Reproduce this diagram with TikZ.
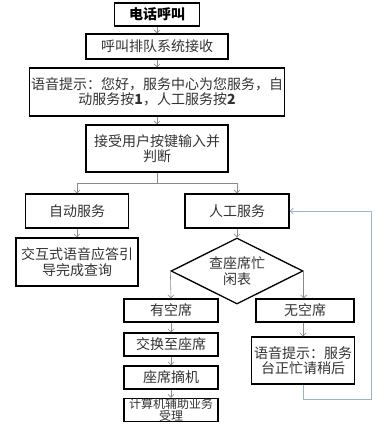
\documentclass[tikz,border=0pt]{standalone}
\usepackage{fontspec}
\setmainfont{Noto Sans CJK SC}
\usetikzlibrary{arrows.meta, shapes.geometric}
\definecolor{cLine}{HTML}{8A8A8A}
\definecolor{cBack}{HTML}{9DB3CF}
\definecolor{cTxt}{HTML}{333333}
\tikzset{
  box/.style={draw=black, line width=1.3pt, fill=white, text=cTxt, align=center,
    inner sep=0pt, font=\fontsize{14}{15.5}\selectfont},
  boxT/.style={box, line width=1.9pt, text=black, font=\fontsize{14}{15.5}\selectfont\bfseries},
  dia/.style={box, diamond, aspect=2},
  seg/.style={draw=cLine, line width=0.6pt},
  arr/.style={seg, -{Straight Barb[length=3pt,width=6pt]}},
  arrB/.style={draw=cBack, line width=0.8pt, -{Straight Barb[length=3pt,width=6pt]}},
}
\def\xM{157}
\def\xA{77}
\def\xR{237}
\def\xL{171}
\def\xW{303}

\begin{document}
\begin{tikzpicture}[x=1pt, y=-1pt]
\useasboundingbox (0,0) rectangle (384,425);

% ── main column ──────────────────────────────────────────────────────────────
\node[boxT, minimum width=85, minimum height=23] (call) at (\xM, 14.5) {电话呼叫};
\node[box, minimum width=142, minimum height=25] (queue) at (\xM, 46.5) {呼叫排队系统接收};
\node[box, minimum width=255, minimum height=48] (prompt) at (\xM, 92)
  {语音提示：您好，服务中心为您服务，自\\动服务按\textbf{1}，人工服务按\textbf{2}};
\node[box, minimum width=142, minimum height=47] (judge) at (\xM, 148.5)
  {接受用户按键输入并\\判断};
\coordinate (sp) at (\xM, 183);

% ── automatic branch ─────────────────────────────────────────────────────────
\node[box, minimum width=103, minimum height=34] (auto) at (\xA, 211) {自动服务};
\node[box, minimum width=122, minimum height=48] (ivr) at (\xA, 262)
  {交互式语音应答引\\导完成查询};

% ── manual branch ────────────────────────────────────────────────────────────
\node[box, minimum width=104, minimum height=34] (manual) at (\xR, 211) {人工服务};
\node[dia, minimum width=132, minimum height=66] (seat) at (\xR, 271) {查座席忙\\闲表};
\node[box, minimum width=94, minimum height=23] (free) at (\xL, 310.5) {有空席};
\node[box, minimum width=94, minimum height=23] (switch) at (\xL, 344.5) {交换至座席};
\node[box, minimum width=94, minimum height=23] (pickup) at (\xL, 377.5) {座席摘机};
\node[box, minimum width=94, minimum height=23, font=\fontsize{12}{11}\selectfont]
  (cti) at (\xL, 410) {计算机辅助业务\\受理};
\node[box, minimum width=98, minimum height=23] (busy) at (305, 310.5) {无空席};
\node[box, minimum width=103, minimum height=47] (wait) at (\xW, 360.5)
  {语音提示：服务\\台正忙请稍后};
\coordinate (rt) at (371, 399);

% ── connectors ───────────────────────────────────────────────────────────────
\draw[arr] (call) -- (queue);
\draw[arr] (queue) -- (prompt);
\draw[arr] (prompt) -- (judge);
\draw[seg] (judge) -- (sp);
\draw[arr] (sp) -| (auto.north);
\draw[arr] (sp) -| (manual.north);
\draw[arr] (auto) -- (ivr);
\draw[arr] (manual) -- (seat);
\draw[arr] (seat.west) -- (free.north);
\draw[arr] (seat.east) -- (seat.east |- busy.north);
\draw[arr] (free) -- (switch);
\draw[arr] (switch) -- (pickup);
\draw[arr] (pickup) -- (cti);
\draw[arr] (wait.north |- busy.south) -- (wait.north);
% back to the manual queue
\draw[arrB] (wait.south) |- (rt) |- (manual.east);

\end{tikzpicture}
\end{document}
